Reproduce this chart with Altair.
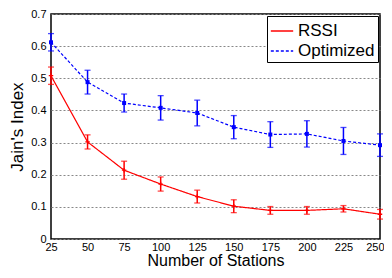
import altair as alt
import pandas as pd

stations = [25, 50, 75, 100, 125, 150, 175, 200, 225, 250]
rssi = [0.508, 0.302, 0.214, 0.171, 0.132, 0.102, 0.089, 0.089, 0.094, 0.077]
rssi_err = [0.027, 0.022, 0.028, 0.022, 0.020, 0.020, 0.012, 0.012, 0.010, 0.015]
opt = [0.612, 0.488, 0.423, 0.408, 0.392, 0.348, 0.325, 0.327, 0.305, 0.292]
opt_err = [0.027, 0.037, 0.028, 0.038, 0.040, 0.036, 0.040, 0.041, 0.042, 0.035]
y_ticks = [0, 0.1, 0.2, 0.3, 0.4, 0.5, 0.6, 0.7]
series = ["RSSI", "Optimized"]
colors = ["#ff0000", "#0000ff"]

rows = []
for name, vals, errs in [("RSSI", rssi, rssi_err), ("Optimized", opt, opt_err)]:
    for s, v, e in zip(stations, vals, errs):
        rows.append({"n": s, "v": v, "lo": v - e, "hi": v + e, "series": name})
df = pd.DataFrame(rows)

FONT = "Liberation Sans"
xs = alt.Scale(domain=[25, 250], nice=False, zero=False)
ys = alt.Scale(domain=[0, 0.7], nice=False)
cs = alt.Scale(domain=series, range=colors)

x_axis = alt.Axis(values=stations, grid=False, domain=False, tickSize=0,
                  labelPadding=2, labelFontSize=11, titleFontSize=16,
                  titleFontWeight="normal", titlePadding=0, labelFlush=False,
                  labelOverlap=False,
                  labelAlign={"expr": "datum.value >= 250 ? 'right' : 'center'"},
                  labelOffset={"expr": "datum.value >= 250 ? 4 : 0"})
y_axis = alt.Axis(values=y_ticks, format=".1~f",
                  grid=True, gridDash=[2, 2], gridColor="#888888", gridWidth=1,
                  domain=False, tickSize=0, labelPadding=5, labelFontSize=11,
                  titleFontSize=17, titleFontWeight="normal", titlePadding=4,
                  labelOverlap=False, labelFlush=False)


def X():
    return alt.X("n:Q", scale=xs, title="Number of Stations", axis=x_axis)


def Y(field):
    return alt.Y(field, scale=ys, title="Jain's Index", axis=y_axis)


base = alt.Chart(df)

lines = base.mark_line(strokeWidth=1.2).encode(
    x=X(), y=Y("v:Q"),
    color=alt.Color("series:N", scale=cs, title=None,
                    legend=alt.Legend(orient="top-right", offset=2, symbolType="stroke",
                                      symbolStrokeWidth=1.5, symbolSize=500,
                                      labelFontSize=17, fillColor="white",
                                      strokeColor="black", padding=3, rowPadding=0,
                                      labelFont=FONT, labelLimit=200)),
    strokeDash=alt.StrokeDash("series:N", scale=alt.Scale(domain=series, range=[[1, 0], [3, 2]]),
                              title=None, legend=None),
)

bars = base.mark_rule(strokeWidth=1.5).encode(
    x=X(), y=Y("lo:Q"), y2="hi:Q",
    color=alt.Color("series:N", scale=cs, legend=None))
caps_lo = base.mark_tick(orient="horizontal", size=6, thickness=1.3).encode(
    x=X(), y=Y("lo:Q"), color=alt.Color("series:N", scale=cs, legend=None))
caps_hi = base.mark_tick(orient="horizontal", size=6, thickness=1.3).encode(
    x=X(), y=Y("hi:Q"), color=alt.Color("series:N", scale=cs, legend=None))

pts_opt = alt.Chart(df[df.series == "Optimized"]).mark_point(
    shape="square", filled=True, size=16, opacity=1, color="#0000ff").encode(x=X(), y=Y("v:Q"))
pts_rssi = alt.Chart(df[df.series == "RSSI"]).mark_point(
    shape="M-1,0H1M0,-1V1", filled=False, size=20, strokeWidth=1.3, opacity=1,
    color="#ff0000").encode(x=X(), y=Y("v:Q"))

chart = alt.layer(lines, bars, caps_lo, caps_hi, pts_opt, pts_rssi).properties(
    width=329, height=225,
    autosize=alt.AutoSizeParams(type="none"),
    padding={"left": 43, "top": 6, "right": 4, "bottom": 31},
).configure(font=FONT).configure_view(stroke="black", strokeWidth=1.5).configure_axis(
    labelColor="black", titleColor="black", labelFont=FONT, titleFont=FONT)

chart.save("out.html", embed_options={"renderer": "svg", "actions": False})
